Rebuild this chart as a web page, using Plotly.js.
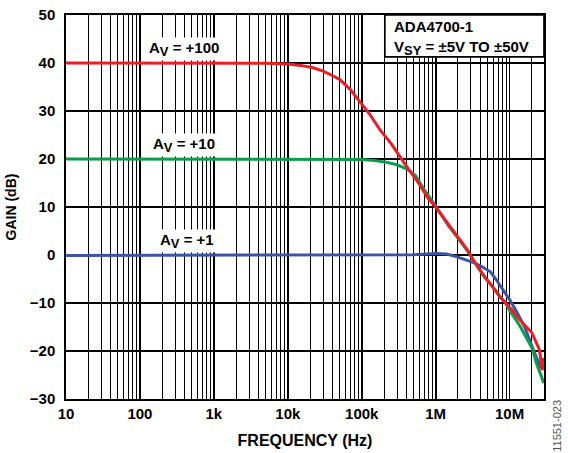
<!DOCTYPE html>
<html>
<head>
<meta charset="utf-8">
<script src="https://cdn.plot.ly/plotly-3.0.1.min.js"></script>
<style>
html,body{margin:0;padding:0;background:#fff;}
#chart{width:568px;height:453px;}
</style>
</head>
<body>
<div id="chart"></div>
<script>
// Frequency (Hz) and gain (dB)
const freqAv100 = [10, 100, 1e3, 5e3, 1e4, 1.5e4, 2.2e4, 3e4, 4e4, 5.1e4, 7e4, 9.6e4, 1.3e5, 1.78e5, 2.5e5, 4.1e5, 6e5, 7.9e5, 1e6, 1.5e6, 2e6, 2.7e6, 3.4e6, 4.5e6, 6.4e6, 7.4e6, 9e6, 1.1e7, 1.26e7, 1.5e7, 1.7e7, 2e7, 2.3e7, 2.5e7, 2.6e7, 2.75e7, 2.85e7, 2.95e7];
const gainAv100 = [40, 40, 40, 39.95, 39.8, 39.5, 39, 38.3, 37.4, 36.5, 34.5, 31.8, 29.2, 26, 23.2, 18.3, 14.8, 11.8, 10, 6.3, 3.8, 1, -1.6, -4.3, -7.3, -8.7, -10.2, -11.6, -12.9, -14.2, -15, -16.2, -18.3, -19.5, -21, -24, -21.5, -22.5];

const freqAv10 = [10, 100, 1e3, 1e4, 5e4, 1e5, 1.5e5, 2.2e5, 3e5, 4.1e5, 5.3e5, 7e5, 1e6, 1.5e6, 2e6, 2.7e6, 3.4e6, 4.5e6, 6e6, 7.4e6, 8.7e6, 1e7, 1.38e7, 1.7e7, 2.04e7, 2.3e7, 2.6e7, 2.9e7];
const gainAv10 = [20, 20, 20, 20, 20, 19.9, 19.7, 19.3, 18.8, 17.9, 16.6, 13.6, 10.2, 6.0, 3.5, 0.8, -1.6, -4.5, -6.8, -8.7, -9.8, -11.5, -14.8, -17.3, -19.6, -22.5, -24.6, -26.7];

const freqAv1 = [10, 100, 1e3, 1e4, 1e5, 3e5, 5e5, 1e6, 1.4e6, 1.95e6, 2.6e6, 3.4e6, 4.3e6, 5.5e6, 6.5e6, 7.4e6, 9e6, 1e7, 1.26e7, 1.6e7, 2.1e7, 2.4e7, 2.6e7, 2.8e7, 2.95e7];
const gainAv1 = [-0.1, -0.1, -0.1, -0.05, 0, 0, 0.05, 0.3, 0.2, -0.4, -1.0, -1.7, -2.5, -3.5, -5, -6.3, -8, -9.3, -12, -15, -19.8, -22, -23.3, -23.5, -23];

const xTickVals = [10, 100, 1e3, 1e4, 1e5, 1e6, 1e7];
const xTickText = ['10', '100', '1k', '10k', '100k', '1M', '10M'];
const yTickVals = [-30, -20, -10, 0, 10, 20, 30, 40, 50];
const yTickText = ['\u221230', '\u221220', '\u221210', '0', '10', '20', '30', '40', '50'];

const minorVals = [];
for (let d = 10; d < 1e8; d *= 10) {
  for (let k = 2; k <= 9; k++) minorVals.push(d * k);
}

const F = 'Liberation Sans, Arial, sans-serif';
const bold = (size) => ({family: F, size: size, color: '#000', weight: 'bold'});
const traces = [
  {x: freqAv1, y: gainAv1, mode: 'lines', line: {color: '#3b55a5', width: 3}},
  {x: freqAv10, y: gainAv10, mode: 'lines', line: {color: '#0b9e4a', width: 3}},
  {x: freqAv100, y: gainAv100, mode: 'lines', line: {color: '#ee1c25', width: 3}}
];

const sub = (s) => '<sub><span style="font-size:13px">' + s + '</span></sub>';

const layout = {
  width: 568, height: 453,
  margin: {l: 66, r: 24, t: 15, b: 54},
  paper_bgcolor: '#fff', plot_bgcolor: '#fff',
  showlegend: false,
  font: {family: F, color: '#000'},
  xaxis: {
    type: 'log', range: [1, 7.465],
    tickmode: 'array', tickvals: xTickVals, ticktext: xTickText,
    tickfont: bold(15),
    showgrid: true, gridcolor: '#000', gridwidth: 1.7,
    minor: {tickmode: 'array', tickvals: minorVals, showgrid: true, gridcolor: '#000', gridwidth: 1, ticks: ''},
    showline: true, linecolor: '#000', linewidth: 1.7, mirror: true,
    ticks: '', zeroline: false,
    title: {text: 'FREQUENCY (Hz)', font: bold(16), standoff: 14}
  },
  yaxis: {
    range: [-30, 50],
    tickmode: 'array', tickvals: yTickVals, ticktext: yTickText,
    tickfont: bold(15),
    showgrid: true, gridcolor: '#000', gridwidth: 1.2,
    showline: true, linecolor: '#000', linewidth: 1.7, mirror: true,
    ticks: '', zeroline: false, ticklabelstandoff: 6,
    title: {text: 'GAIN (dB)', font: bold(14), standoff: 10}
  },
  shapes: [
    {type: 'rect', xref: 'paper', yref: 'paper', x0: 0.667, x1: 1, y0: 0.891, y1: 1,
     fillcolor: '#fff', line: {color: '#000', width: 1.7}, layer: 'above'}
  ],
  annotations: [
    {xref: 'paper', yref: 'paper', x: 0.682, y: 0.998, xanchor: 'left', yanchor: 'top', align: 'left', showarrow: false,
     text: 'ADA4700-1<br>V' + sub('SY') + ' = \u00b15V TO \u00b150V', font: bold(15)},
    {xref: 'x', yref: 'y', x: 2.6, y: 43, showarrow: false,
     text: 'A' + sub('V') + ' = +100', font: bold(15), bgcolor: '#fff'},
    {xref: 'x', yref: 'y', x: 2.6, y: 23, showarrow: false,
     text: 'A' + sub('V') + ' = +10', font: bold(15), bgcolor: '#fff'},
    {xref: 'x', yref: 'y', x: 2.63, y: 2.9, showarrow: false,
     text: 'A' + sub('V') + ' = +1', font: bold(15), bgcolor: '#fff'},
    {xref: 'paper', yref: 'paper', x: 1.027, y: -0.07, xanchor: 'center', yanchor: 'middle', showarrow: false, textangle: -90,
     text: '11551-023', font: {family: F, size: 11, color: '#555'}}
  ]
};

Plotly.newPlot('chart', traces, layout, {displayModeBar: false, staticPlot: true});
</script>
</body>
</html>
